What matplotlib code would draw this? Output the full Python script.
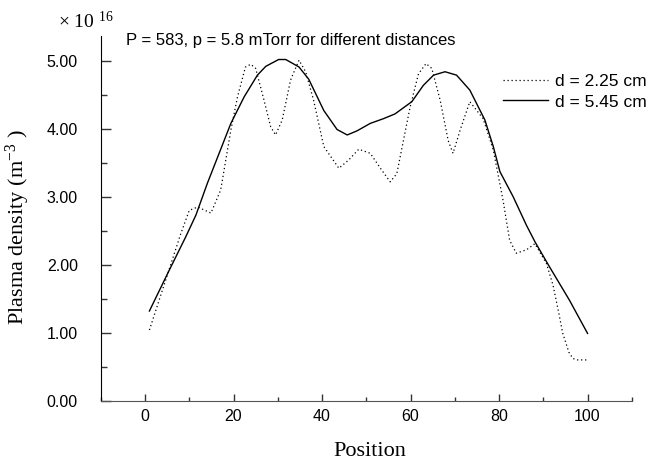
import matplotlib
matplotlib.use('Agg')
import matplotlib.pyplot as plt
import numpy as np
from matplotlib.ticker import MultipleLocator, FormatStrFormatter

plt.rcParams['font.family'] = ['Liberation Sans', 'DejaVu Sans']
plt.rcParams['mathtext.fontset'] = 'custom'
plt.rcParams['mathtext.rm'] = 'Liberation Serif'
plt.rcParams['mathtext.it'] = 'Liberation Serif:italic'

# d = 2.25 cm (dotted)
x_near = [1, 4.7, 8.1, 10, 11.9, 14.9, 17.1, 19.4, 20.9, 22.7, 23.9, 25, 26.9, 28.4,
          29.5, 31, 32.9, 34.8, 36.3, 38.1, 40.4, 43.8, 46, 48.3, 50.9, 53.2, 55.4,
          56.9, 58.4, 59.9, 61.8, 63.5, 64.8, 66.7, 68.5, 69.6, 71.2, 73.4, 76.4,
          78.7, 80.9, 82.4, 83.9, 86.2, 88.1, 90.7, 92.2, 93.5, 94.4, 95.8, 96.7,
          97.7, 100]
y_near = [1.04, 1.78, 2.46, 2.80, 2.85, 2.76, 3.10, 3.98, 4.47, 4.91, 4.95, 4.89, 4.42,
          4.03, 3.91, 4.13, 4.72, 5.01, 4.84, 4.42, 3.74, 3.42, 3.54, 3.70, 3.64, 3.42,
          3.22, 3.34, 3.83, 4.32, 4.81, 4.96, 4.89, 4.42, 3.83, 3.64, 3.98, 4.40, 4.15,
          3.69, 2.95, 2.36, 2.17, 2.22, 2.31, 2.02, 1.70, 1.29, 0.99, 0.71, 0.62,
          0.60, 0.60]

# d = 5.45 cm (solid)
x_far = [1, 5.1, 9.2, 11.5, 14.1, 19.4, 22.4, 25.4, 27.3, 30.2, 31.8, 34.8, 37.0, 40.4,
         43.4, 45.7, 47.9, 50.9, 53.9, 56.5, 60.3, 62.9, 65.2, 67.8, 70.4, 73.4, 76.8,
         78.7, 80.2, 83.2, 86.2, 88.1, 91.4, 95.9, 100]
y_far = [1.32, 1.87, 2.41, 2.73, 3.20, 4.08, 4.47, 4.79, 4.92, 5.02, 5.02, 4.91, 4.73,
         4.27, 3.99, 3.91, 3.97, 4.08, 4.15, 4.22, 4.40, 4.64, 4.79, 4.84, 4.79, 4.57,
         4.13, 3.74, 3.37, 3.00, 2.58, 2.34, 1.97, 1.48, 0.99]

labels = ['d = 2.25 cm', 'd = 5.45 cm']

fig = plt.figure(figsize=(6.5, 4.67), dpi=100)
ax = fig.add_axes([0.155, 0.142, 0.817, 0.7815])

ax.plot(x_near, y_near, color='black', lw=0.9, linestyle=(0, (1, 2.2)), label=labels[0])
ax.plot(x_far, y_far, color='black', lw=1.0, label=labels[1])

ax.set_xlim(-10, 110)
ax.set_ylim(0, 5.37)

ax.spines['top'].set_visible(False)
ax.spines['right'].set_visible(False)
ax.spines['bottom'].set_color('#555555')

ax.xaxis.set_major_locator(MultipleLocator(20))
ax.xaxis.set_minor_locator(MultipleLocator(10))
ax.yaxis.set_major_locator(MultipleLocator(1))
ax.yaxis.set_minor_locator(MultipleLocator(0.5))
ax.yaxis.set_major_formatter(FormatStrFormatter('%.2f'))

ax.tick_params(axis='x', which='major', direction='in', length=5, width=1, pad=6, labelsize=11.5, color='#333333')
ax.tick_params(axis='x', which='minor', direction='in', length=3, width=1, color='#333333')
ax.tick_params(axis='y', which='major', direction='in', length=7, width=1, pad=16.5, labelsize=11.5, color='#333333')
ax.tick_params(axis='y', which='minor', direction='in', length=4, width=1, color='#333333')

ax.set_xlabel('Position', family='Liberation Serif', fontsize=16)
ax.xaxis.set_label_coords(0.507, -0.1405)
ax.xaxis.label.set_va('center')
ax.set_ylabel(r'Plasma density (m$^{-3}$ )', family='Liberation Serif', fontsize=16)
ax.yaxis.set_label_coords(-0.1557, 0.476)
ax.yaxis.label.set_va('center')

fig.text(58 / 650, 1 - 21 / 467, r'$\times$ 10 $^{16}$', family='Liberation Serif',
         fontsize=14, va='center', ha='left')
fig.text(126 / 650, 1 - 40 / 467, 'P = 583, p = 5.8 mTorr for different distances',
         fontsize=12, va='center', ha='left')

ax.legend(loc='upper left', bbox_to_anchor=(503 / 650, 1 - 74 / 467),
          bbox_transform=fig.transFigure, frameon=False, fontsize=12.5,
          handlelength=2.6, handletextpad=0.4, labelspacing=0.3,
          borderpad=0, borderaxespad=0)

fig.savefig('out.png', dpi=100)
